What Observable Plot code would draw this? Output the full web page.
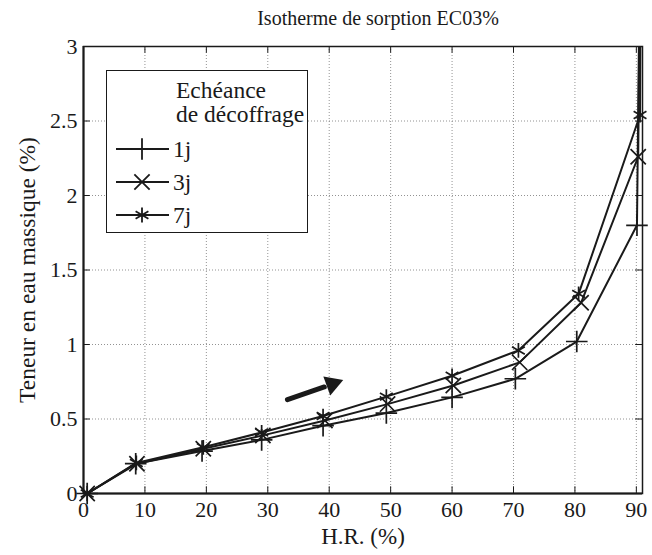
<!DOCTYPE html>
<html><head><meta charset="utf-8">
<script src="https://cdn.jsdelivr.net/npm/d3@7"></script>
<script src="https://cdn.jsdelivr.net/npm/@observablehq/plot@0.6"></script>
<style>
body{margin:0;background:#fff;}
#wrap{position:relative;width:652px;height:555px;font-family:'Liberation Serif';color:#1a1a1a;}
#legend{position:absolute;left:106px;top:70px;width:200px;height:161px;border:1.5px solid #1a1a1a;background:#fff;}
</style></head>
<body><div id="wrap"><div id="legend"></div></div>
<script>
// Data
const title = "Isotherme de sorption EC03%";
const xLabel = "H.R. (%)";
const yLabel = "Teneur en eau massique (%)";
const legendTitle = ["Echéance", "de décoffrage"];
const series = ["1j", "3j", "7j"];
const symbols = ["plus", "times", "asterisk"];
const hr1 = [0.6, 8.5, 19.3, 29.0, 39.0, 49.3, 60.0, 70.3, 80.3, 90.1, 90.8];
const w1  = [0, 0.20, 0.285, 0.36, 0.455, 0.54, 0.645, 0.77, 1.02, 1.80, 4.5];
const hr3 = [0.6, 8.7, 19.5, 29.2, 39.3, 49.5, 60.2, 71.0, 81.0, 90.3, 90.8];
const w3  = [0, 0.20, 0.30, 0.39, 0.49, 0.60, 0.725, 0.88, 1.28, 2.26, 4.5];
const hr7 = [0.6, 8.6, 19.5, 29.0, 39.0, 49.3, 60.0, 70.8, 80.6, 90.6, 90.8];
const w7  = [0, 0.205, 0.31, 0.41, 0.52, 0.65, 0.79, 0.96, 1.34, 2.54, 4.5];
const xTicks = [0, 10, 20, 30, 40, 50, 60, 70, 80, 90];
const yTicks = [0, 0.5, 1, 1.5, 2, 2.5, 3];
const xDomain = [0, 91];
const yDomain = [0, 3];
// arrow (shaft start, shaft end, head centre)
const arrowX = [33.2, 39.2, 40.5];
const arrowY = [0.63, 0.715, 0.735];

const hrs = [hr1, hr3, hr7], ws = [w1, w3, w7];
const data = [];
series.forEach((s, i) => hrs[i].forEach((h, j) => data.push({s, hr: h, w: ws[i][j]})));

const ink = "#1a1a1a";
const font = "Liberation Serif";
const tickLenX = 1.1, tickLenY = 0.045;

const chart = Plot.plot({
  width: 652, height: 555,
  marginTop: 46, marginLeft: 83, marginRight: 10, marginBottom: 62,
  style: {color: ink, background: "white"},
  x: {domain: xDomain},
  y: {domain: yDomain},
  symbol: {domain: series, range: symbols},
  marks: [
    Plot.gridX(xTicks, {stroke: "#777", strokeOpacity: 1, strokeDasharray: "1,2", strokeWidth: 0.8}),
    Plot.gridY(yTicks, {stroke: "#777", strokeOpacity: 1, strokeDasharray: "1,2", strokeWidth: 0.8}),
    // inward ticks on all sides
    Plot.ruleX(xTicks, {x: d => d, y1: yDomain[0], y2: yDomain[0] + tickLenY, stroke: ink, strokeWidth: 1}),
    Plot.ruleX(xTicks, {x: d => d, y1: yDomain[1], y2: yDomain[1] - tickLenY, stroke: ink, strokeWidth: 1}),
    Plot.ruleY(yTicks, {y: d => d, x1: xDomain[0], x2: xDomain[0] + tickLenX, stroke: ink, strokeWidth: 1}),
    Plot.ruleY(yTicks, {y: d => d, x1: xDomain[1], x2: xDomain[1] - tickLenX, stroke: ink, strokeWidth: 1}),
    Plot.frame({stroke: ink, strokeWidth: 1.5}),
    Plot.axisX(xTicks, {tickSize: 0, tickPadding: 8, fontSize: 22, label: null}),
    Plot.axisY(yTicks, {tickSize: 0, tickPadding: 6, fontSize: 22, tickFormat: d => String(d), label: null}),
    Plot.axisX({tickSize: 0, ticks: [], fontSize: 23, label: xLabel, labelAnchor: "center", labelArrow: "none", labelOffset: 50}),
    Plot.axisY({tickSize: 0, ticks: [], fontSize: 23.5, label: yLabel, labelAnchor: "center", labelArrow: "none", labelOffset: 65}),
    Plot.ruleY([0], {stroke: ink, strokeWidth: 2}),
    Plot.ruleX([0], {stroke: ink, strokeWidth: 2}),
    Plot.line(data, {x: "hr", y: "w", z: "s", stroke: ink, strokeWidth: 2, clip: true}),
    Plot.dot(data.filter(d => d.w <= yDomain[1]), {x: "hr", y: "w", symbol: "s", r: 7, stroke: ink, strokeWidth: 1.7, fill: "none"}),
    Plot.line(arrowX.slice(0, 2).map((x, i) => ({x, y: arrowY[i]})), {x: "x", y: "y", stroke: ink, strokeWidth: 5}),
    Plot.dot([{x: arrowX[2], y: arrowY[2]}], {x: "x", y: "y", symbol: "triangle", r: 7.5, fill: ink, stroke: "none", rotate: 70}),
    Plot.text([title], {frameAnchor: "top", dy: -36, fontSize: 20, fill: ink, text: d => d, dx: 15})
  ]
});
chart.setAttribute("font-family", font);
d3.select(chart).selectAll("text, g").attr("font-family", font);
document.getElementById("wrap").prepend(chart);
chart.style.position = "absolute"; chart.style.left = "0"; chart.style.top = "0";

// legend
const leg = d3.select("#legend").append("svg").attr("width", 200).attr("height", 161).attr("font-family", font);
leg.append("text").attr("x", 69).attr("y", 27).attr("font-size", 23.5).attr("font-family", font).attr("fill", ink).text(legendTitle[0]);
leg.append("text").attr("x", 69).attr("y", 51).attr("font-size", 23.5).attr("font-family", font).attr("fill", ink).text(legendTitle[1]);
const symMap = {plus: d3.symbolPlus, times: d3.symbolTimes, asterisk: d3.symbolAsterisk};
series.forEach((s, i) => {
  const cy = 78 + i * 33;
  const g = leg.append("g");
  g.append("line").attr("x1", 9).attr("x2", 62).attr("y1", cy).attr("y2", cy).attr("stroke", ink).attr("stroke-width", 2.2);
  g.append("path").attr("transform", `translate(35,${cy})`).attr("d", d3.symbol(symMap[symbols[i]], Math.PI * 49)())
    .attr("stroke", ink).attr("stroke-width", 1.8).attr("fill", "none");
  g.append("text").attr("x", 66).attr("y", cy + 8).attr("font-size", 23.5).attr("font-family", font).attr("fill", ink).text(s);
});
</script></body></html>
